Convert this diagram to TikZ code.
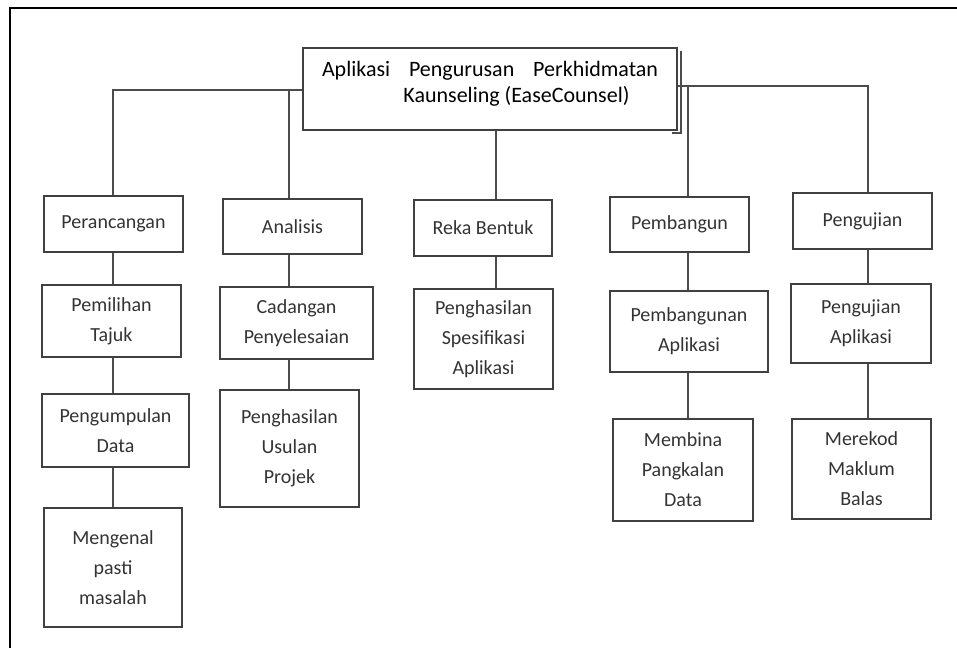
\documentclass[tikz,border=0pt]{standalone}
\usepackage{fontspec}
\setmainfont{Carlito}
\tikzset{
  box/.style={draw=black!75, line width=0.75pt, align=center, inner sep=0pt,
    text=black!80, font=\fontsize{10}{15}\selectfont},
  link/.style={draw=black!70, line width=0.75pt},
}

\begin{document}
\begin{tikzpicture}[x=0.5pt,y=-0.5pt]
	\useasboundingbox (0,0) rectangle (957,648);
	\draw[line width=0.6pt] (10,648) -- (10,8) -- (957,8);

	\node[box, minimum width=187pt, minimum height=41pt, text=black,
		font=\fontsize{11}{13}\selectfont] (root) at (490,89)
		{\makebox[168pt][s]{Aplikasi\hfill Pengurusan\hfill Perkhidmatan}\\
		 \hspace*{26.5pt}Kaunseling (EaseCounsel)\rule[-7pt]{0pt}{7pt}};
	\draw[link] ([xshift=1.5pt,yshift=-2pt]root.north east) -- ([xshift=1.5pt,yshift=-1pt]root.south east)
		-- ([xshift=-3pt,yshift=-1pt]root.south east);

	% Perancangan
	\node[box, minimum width=69.5pt, minimum height=28pt] (p1) at (113.5,224) {Perancangan};
	\node[box, minimum width=69.5pt, minimum height=36pt] (p2) at (111.5,321) {Pemilihan\\Tajuk};
	\node[box, minimum width=73.5pt, minimum height=36.5pt] (p3) at (115.5,430.5) {Pengumpulan\\Data};
	\node[box, minimum width=69pt, minimum height=59.5pt] (p4) at (113,567.5) {Mengenal\\pasti\\masalah};

	% Analisis
	\node[box, minimum width=69.5pt, minimum height=27.5pt] (a1) at (292.5,226.5) {Analisis};
	\node[box, minimum width=76.5pt, minimum height=36pt] (a2) at (296.5,323) {Cadangan\\Penyelesaian};
	\node[box, minimum width=69.5pt, minimum height=58.5pt] (a3) at (289.5,448.5) {Penghasilan\\Usulan\\Projek};

	% Reka Bentuk
	\node[box, minimum width=69pt, minimum height=28pt] (r1) at (483,228) {Reka Bentuk};
	\node[box, minimum width=69.5pt, minimum height=50pt] (r2) at (483.5,339) {Penghasilan\\Spesifikasi\\Aplikasi};

	% Pembangun
	\node[box, minimum width=69.5pt, minimum height=27.5pt] (b1) at (679.5,224.5) {Pembangun};
	\node[box, minimum width=79pt, minimum height=40.5pt] (b2) at (689,331.5) {Pembangunan\\Aplikasi};
	\node[box, minimum width=70pt, minimum height=51pt] (b3) at (683,470) {Membina\\Pangkalan\\Data};

	% Pengujian
	\node[box, minimum width=69.5pt, minimum height=28pt] (u1) at (862.5,221) {Pengujian};
	\node[box, minimum width=70pt, minimum height=39.5pt] (u2) at (861,323.5) {Pengujian\\Aplikasi};
	\node[box, minimum width=69.5pt, minimum height=50pt] (u3) at (861.5,469) {Merekod\\Maklum\\Balas};

	\coordinate (pcol) at (113,90);
	\coordinate (acol) at (289,90);
	\coordinate (rcol) at (496,130);
	\coordinate (bcol) at (688,86);
	\coordinate (ucol) at (868,86);

	\draw[link] (root.west |- pcol) -| (p1.north -| pcol);
	\draw[link] (acol) -- (a1.north -| acol);
	\draw[link] (root.south -| rcol) -- (r1.north -| rcol);
	\draw[link] (root.east |- ucol) -| (u1.north -| ucol);
	\draw[link] (bcol) -- (b1.north -| bcol);

	\draw[link] (p1.south -| pcol) -- (p2.north -| pcol);
	\draw[link] (p2.south -| pcol) -- (p3.north -| pcol);
	\draw[link] (p3.south -| pcol) -- (p4.north -| pcol);
	\draw[link] (a1.south -| acol) -- (a2.north -| acol);
	\draw[link] (a2.south -| acol) -- (a3.north -| acol);
	\draw[link] (r1.south -| rcol) -- (r2.north -| rcol);
	\draw[link] (b1.south -| bcol) -- (b2.north -| bcol);
	\draw[link] (b2.south -| bcol) -- (b3.north -| bcol);
	\draw[link] (u1.south -| ucol) -- (u2.north -| ucol);
	\draw[link] (u2.south -| ucol) -- (u3.north -| ucol);
\end{tikzpicture}
\end{document}
